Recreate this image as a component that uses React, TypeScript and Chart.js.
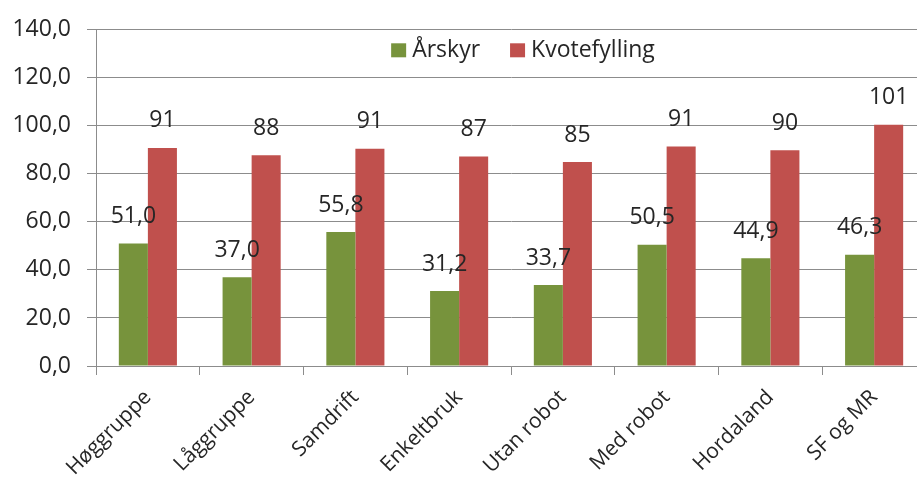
import React, { useEffect, useRef } from "react";
import { Chart, registerables } from "chart.js";

Chart.register(...registerables);

const categories = ["Høggruppe", "Låggruppe", "Samdrift", "Enkeltbruk", "Utan robot", "Med robot", "Hordaland", "SF og MR"];
const seriesNames = ["Årskyr", "Kvotefylling"];
const arskyr = [51.0, 37.0, 55.8, 31.2, 33.7, 50.5, 44.9, 46.3];
const kvotefylling = [90.8, 87.8, 90.5, 87.2, 84.9, 91.4, 89.8, 100.5];
const yTicks = [0, 20, 40, 60, 80, 100, 120, 140];

const GREEN = "#77933C";
const RED = "#C0504D";
const GRID = "#8C8C8C";
const TEXT = "#262626";
const FONT = "'Open Sans', sans-serif";
const FS = 23;

const fmt1 = (v: number) => v.toFixed(1).replace(".", ",");

const labelPlugin = {
  id: "barLabels",
  afterDatasetsDraw(chart: any) {
    const ctx = chart.ctx;
    ctx.save();
    ctx.font = `${FS}px ${FONT}`;
    ctx.fillStyle = TEXT;
    ctx.textAlign = "center";
    ctx.textBaseline = "middle";
    chart.data.datasets.forEach((ds: any, di: number) => {
      const meta = chart.getDatasetMeta(di);
      meta.data.forEach((bar: any, i: number) => {
        const v = ds.data[i];
        const txt = di === 0 ? fmt1(v) : String(Math.round(v));
        ctx.fillText(txt, bar.x, bar.y - 27);
      });
    });
    ctx.restore();
  },
};

const legendPlugin = {
  id: "innerLegend",
  afterDraw(chart: any) {
    const ctx = chart.ctx;
    const area = chart.chartArea;
    ctx.save();
    ctx.font = `${FS}px ${FONT}`;
    ctx.textBaseline = "middle";
    ctx.textAlign = "left";
    const box = 15;
    const gapBox = 6;
    const gapItem = 30;
    const items = chart.data.datasets.map((ds: any) => ({
      label: ds.label,
      color: ds.backgroundColor,
      w: box + gapBox + ctx.measureText(ds.label).width,
    }));
    const total = items.reduce((a: number, it: any) => a + it.w, 0) + gapItem * (items.length - 1);
    let x = (area.left + area.right) / 2 + 12 - total / 2;
    const cy = area.top + 21;
    items.forEach((it: any) => {
      ctx.fillStyle = it.color;
      ctx.fillRect(x, cy - box / 2, box, box - 1);
      ctx.fillStyle = TEXT;
      ctx.fillText(it.label, x + box + gapBox, cy);
      x += it.w + gapItem;
    });
    ctx.restore();
  },
};

export default function App() {
  const ref = useRef<HTMLCanvasElement>(null);
  useEffect(() => {
    if (!ref.current) return;
    const chart = new Chart(ref.current, {
      type: "bar",
      data: {
        labels: categories,
        datasets: [
          { label: seriesNames[0], data: arskyr, backgroundColor: GREEN, categoryPercentage: 0.56, barPercentage: 1.0 },
          { label: seriesNames[1], data: kvotefylling, backgroundColor: RED, categoryPercentage: 0.56, barPercentage: 1.0 },
        ],
      },
      options: {
        responsive: false,
        animation: false,
        layout: { padding: { top: 24, right: 9, left: 0, bottom: 0 } },
        plugins: {
          tooltip: { enabled: false },
          legend: { display: false },
        },
        scales: {
          x: {
            offset: true,
            grid: { drawOnChartArea: false, drawTicks: true, tickLength: 9, offset: true, color: GRID },
            border: { display: true, color: GRID },
            ticks: {
              maxRotation: 45,
              minRotation: 45,
              padding: 10,
              color: TEXT,
              font: { family: FONT, size: 21 },
            },
            afterFit: (s: any) => { s.height = 118; },
          },
          y: {
            min: 0,
            max: 140,
            afterBuildTicks: (s: any) => { s.ticks = yTicks.map((v) => ({ value: v })); },
            grid: { color: GRID, tickLength: 9, drawTicks: true },
            border: { display: true, color: GRID },
            ticks: {
              padding: 16,
              color: TEXT,
              font: { family: FONT, size: FS },
              callback: (v: any) => fmt1(Number(v)),
            },
            afterFit: (s: any) => { s.width = 96; },
          },
        },
      },
      plugins: [labelPlugin, legendPlugin],
    });
    return () => chart.destroy();
  }, []);
  return (
    <div style={{ position: "fixed", left: 0, top: 0, width: 935, height: 484, background: "#fff" }}>
      <canvas ref={ref} width={935} height={484} />
    </div>
  );
}
